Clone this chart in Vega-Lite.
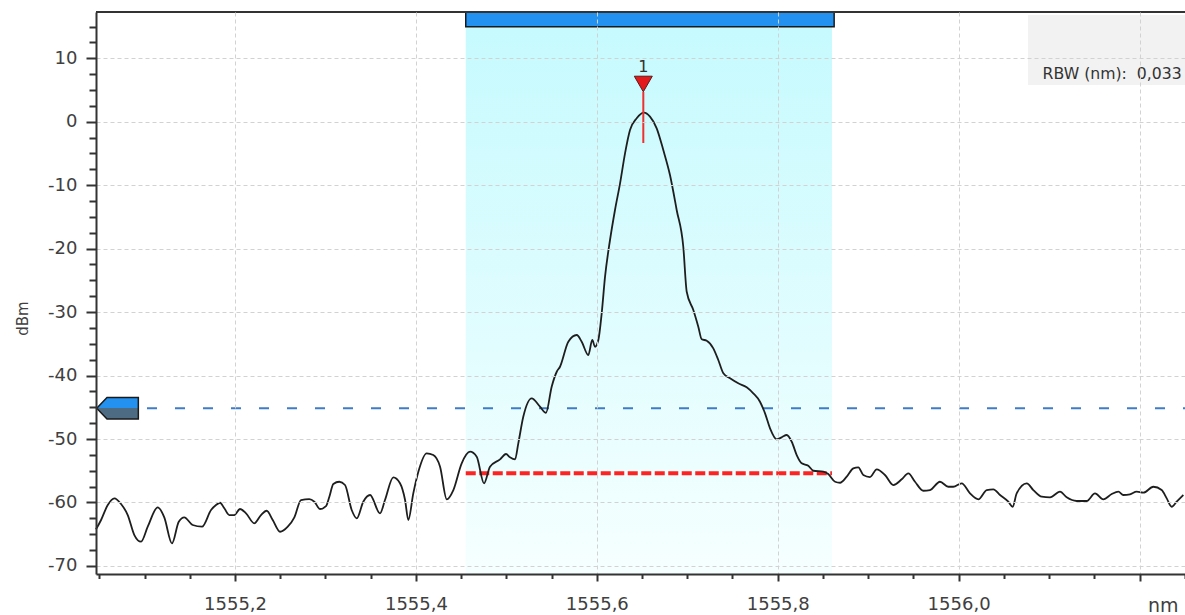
{
  "$schema": "https://vega.github.io/schema/vega-lite/v6.json",
  "width": 1089,
  "height": 562,
  "autosize": {"type": "none"},
  "padding": {"left": 96, "top": 12, "right": 0, "bottom": 41},
  "background": "white",
  "config": {
    "view": {"stroke": null},
    "font": "DejaVu Sans"
  },
  "datasets": {
    "trace": [
      {"wl":1555.0463,"dbm":-64.23},{"wl":1555.0519,"dbm":-62.76},{"wl":1555.0593,"dbm":-60.40},{"wl":1555.0666,"dbm":-59.35},
      {"wl":1555.0740,"dbm":-60.24},{"wl":1555.0814,"dbm":-61.98},{"wl":1555.0887,"dbm":-65.13},{"wl":1555.0961,"dbm":-66.18},
      {"wl":1555.1035,"dbm":-63.82},{"wl":1555.1145,"dbm":-60.76},{"wl":1555.1218,"dbm":-62.34},{"wl":1555.1303,"dbm":-66.44},
      {"wl":1555.1378,"dbm":-63.03},{"wl":1555.1439,"dbm":-62.34},{"wl":1555.1532,"dbm":-63.55},{"wl":1555.1635,"dbm":-63.82},
      {"wl":1555.1735,"dbm":-61.19},{"wl":1555.1790,"dbm":-60.40},{"wl":1555.1834,"dbm":-60.04},{"wl":1555.1882,"dbm":-60.92},
      {"wl":1555.1937,"dbm":-61.98},{"wl":1555.1992,"dbm":-61.98},{"wl":1555.2055,"dbm":-61.03},{"wl":1555.2122,"dbm":-61.71},
      {"wl":1555.2213,"dbm":-63.28},{"wl":1555.2287,"dbm":-61.98},{"wl":1555.2350,"dbm":-61.30},{"wl":1555.2417,"dbm":-62.76},
      {"wl":1555.2498,"dbm":-64.61},{"wl":1555.2583,"dbm":-63.82},{"wl":1555.2656,"dbm":-62.34},{"wl":1555.2730,"dbm":-59.61},
      {"wl":1555.2821,"dbm":-59.46},{"wl":1555.2877,"dbm":-59.88},{"wl":1555.2940,"dbm":-61.03},{"wl":1555.3006,"dbm":-60.56},
      {"wl":1555.3043,"dbm":-59.09},{"wl":1555.3087,"dbm":-57.09},{"wl":1555.3153,"dbm":-56.73},{"wl":1555.3216,"dbm":-57.25},
      {"wl":1555.3290,"dbm":-61.19},{"wl":1555.3346,"dbm":-62.50},{"wl":1555.3418,"dbm":-59.88},{"wl":1555.3493,"dbm":-58.82},
      {"wl":1555.3603,"dbm":-61.71},{"wl":1555.3658,"dbm":-59.61},{"wl":1555.3750,"dbm":-56.04},{"wl":1555.3824,"dbm":-56.98},
      {"wl":1555.3880,"dbm":-59.61},{"wl":1555.3916,"dbm":-62.76},{"wl":1555.3971,"dbm":-58.56},{"wl":1555.4027,"dbm":-55.15},
      {"wl":1555.4119,"dbm":-52.25},{"wl":1555.4192,"dbm":-52.52},{"wl":1555.4267,"dbm":-54.36},{"wl":1555.4341,"dbm":-59.50},
      {"wl":1555.4414,"dbm":-58.04},{"wl":1555.4506,"dbm":-53.83},{"wl":1555.4598,"dbm":-52.00},{"wl":1555.4672,"dbm":-52.79},
      {"wl":1555.4753,"dbm":-56.98},{"wl":1555.4819,"dbm":-54.36},{"wl":1555.4930,"dbm":-53.20},{"wl":1555.4996,"dbm":-52.36},
      {"wl":1555.5040,"dbm":-52.88},{"wl":1555.5096,"dbm":-53.20},{"wl":1555.5132,"dbm":-50.68},{"wl":1555.5187,"dbm":-46.49},
      {"wl":1555.5280,"dbm":-43.59},{"wl":1555.5372,"dbm":-44.91},{"wl":1555.5438,"dbm":-45.86},{"wl":1555.5501,"dbm":-41.76},
      {"wl":1555.5557,"dbm":-39.40},{"wl":1555.5593,"dbm":-38.61},{"wl":1555.5685,"dbm":-34.67},{"wl":1555.5778,"dbm":-33.61},
      {"wl":1555.5833,"dbm":-34.67},{"wl":1555.5906,"dbm":-36.76},{"wl":1555.5950,"dbm":-34.40},{"wl":1555.5980,"dbm":-35.46},
      {"wl":1555.6017,"dbm":-34.40},{"wl":1555.6054,"dbm":-30.19},{"wl":1555.6091,"dbm":-24.42},{"wl":1555.6146,"dbm":-18.64},
      {"wl":1555.6201,"dbm":-13.91},{"wl":1555.6257,"dbm":-9.71},{"wl":1555.6312,"dbm":-4.98},{"wl":1555.6367,"dbm":-1.31},
      {"wl":1555.6441,"dbm":0.54},{"wl":1555.6522,"dbm":1.42},{"wl":1555.6588,"dbm":0.79},{"wl":1555.6662,"dbm":-1.04},
      {"wl":1555.6735,"dbm":-4.46},{"wl":1555.6809,"dbm":-8.40},{"wl":1555.6883,"dbm":-13.91},{"wl":1555.6956,"dbm":-19.70},
      {"wl":1555.6994,"dbm":-26.79},{"wl":1555.7067,"dbm":-29.67},{"wl":1555.7122,"dbm":-32.30},{"wl":1555.7160,"dbm":-34.29},
      {"wl":1555.7215,"dbm":-34.51},{"wl":1555.7288,"dbm":-35.71},{"wl":1555.7343,"dbm":-37.55},{"wl":1555.7399,"dbm":-39.65},
      {"wl":1555.7473,"dbm":-40.43},{"wl":1555.7564,"dbm":-41.22},{"wl":1555.7657,"dbm":-41.85},{"wl":1555.7730,"dbm":-42.80},
      {"wl":1555.7804,"dbm":-44.12},{"wl":1555.7860,"dbm":-45.95},{"wl":1555.7915,"dbm":-48.31},{"wl":1555.7989,"dbm":-50.05},
      {"wl":1555.8044,"dbm":-49.73},{"wl":1555.8100,"dbm":-49.37},{"wl":1555.8155,"dbm":-50.43},{"wl":1555.8210,"dbm":-52.52},
      {"wl":1555.8265,"dbm":-53.83},{"wl":1555.8338,"dbm":-54.21},{"wl":1555.8394,"dbm":-55.00},{"wl":1555.8504,"dbm":-55.15},
      {"wl":1555.8559,"dbm":-55.52},{"wl":1555.8634,"dbm":-56.73},{"wl":1555.8689,"dbm":-56.89},{"wl":1555.8763,"dbm":-55.94},
      {"wl":1555.8836,"dbm":-54.62},{"wl":1555.8891,"dbm":-54.46},{"wl":1555.8946,"dbm":-55.67},{"wl":1555.9020,"dbm":-55.99},
      {"wl":1555.9095,"dbm":-54.77},{"wl":1555.9186,"dbm":-55.67},{"wl":1555.9278,"dbm":-57.25},{"wl":1555.9371,"dbm":-56.35},
      {"wl":1555.9444,"dbm":-55.41},{"wl":1555.9518,"dbm":-56.73},{"wl":1555.9610,"dbm":-58.15},{"wl":1555.9684,"dbm":-58.04},
      {"wl":1555.9794,"dbm":-56.73},{"wl":1555.9886,"dbm":-57.52},{"wl":1555.9941,"dbm":-57.52},{"wl":1556.0034,"dbm":-56.98},
      {"wl":1556.0126,"dbm":-58.56},{"wl":1556.0218,"dbm":-59.50},{"wl":1556.0311,"dbm":-58.04},{"wl":1556.0384,"dbm":-57.93},
      {"wl":1556.0458,"dbm":-58.82},{"wl":1556.0550,"dbm":-59.88},{"wl":1556.0598,"dbm":-60.67},{"wl":1556.0642,"dbm":-58.56},
      {"wl":1556.0753,"dbm":-56.98},{"wl":1556.0826,"dbm":-58.04},{"wl":1556.0919,"dbm":-59.09},{"wl":1556.1011,"dbm":-59.19},
      {"wl":1556.1121,"dbm":-58.30},{"wl":1556.1195,"dbm":-59.19},{"wl":1556.1306,"dbm":-59.77},{"wl":1556.1416,"dbm":-59.77},
      {"wl":1556.1508,"dbm":-58.56},{"wl":1556.1600,"dbm":-59.50},{"wl":1556.1693,"dbm":-58.67},{"wl":1556.1766,"dbm":-58.30},
      {"wl":1556.1821,"dbm":-58.82},{"wl":1556.1895,"dbm":-58.71},{"wl":1556.1969,"dbm":-58.30},{"wl":1556.2042,"dbm":-58.46},
      {"wl":1556.2153,"dbm":-57.52},{"wl":1556.2245,"dbm":-58.04},{"wl":1556.2301,"dbm":-59.35},{"wl":1556.2356,"dbm":-60.67},
      {"wl":1556.2411,"dbm":-59.88},{"wl":1556.2484,"dbm":-58.82}
    ],
    "band": [{"wl":1555.4551,"wl2":1555.8600,"dbm":-71.27,"dbm2":14.97}],
    "bar": [{"wl":1555.4551,"wl2":1555.8624,"dbm":14.97,"dbm2":17.286}],
    "threshold": [{"wl":1555.0463,"wl2":1556.2503,"dbm":-45.16}],
    "arrow": [{"wl":1555.0701,"dbm":-45.16}],
    "level": [{"wl":1555.4551,"wl2":1555.8600,"dbm":-55.41}],
    "markerLine": [{"wl":1555.6514,"dbm":4.68,"dbm2":-3.36}],
    "markerTri": [{"wl":1555.6514,"dbm":5.94}],
    "markerLabel": [{"wl":1555.6514,"dbm":7.83,"text":"1"}],
    "rbwBox": [{"wl":1556.0767,"wl2":1556.2503,"dbm":5.78,"dbm2":16.81}],
    "rbwText": [{"wl":1556.0928,"dbm":6.65,"text":"RBW (nm):\u00a0 0,033"}],
    "frameTop": [{"wl":1555.0463,"wl2":1556.2503,"dbm":17.286}]
  },
  "encoding": {
    "x": {
      "field": "wl",
      "type": "quantitative",
      "title": "nm",
      "scale": {"domain": [1555.0463, 1556.2503], "nice": false, "zero": false},
      "axis": {
        "values": [1555.05,1555.1,1555.15,1555.2,1555.25,1555.3,1555.35,1555.4,1555.45,1555.5,1555.55,1555.6,1555.65,1555.7,1555.75,1555.8,1555.85,1555.9,1555.95,1556.0,1556.05,1556.1,1556.15,1556.2,1556.25],
        "labelExpr": "abs(round(datum.value*20)) % 4 == 0 && datum.value < 1556.1 ? replace(format(datum.value, '.1f'), '.', ',') : ''",
        "tickSize": {"condition": {"test": "abs(round(datum.value*20)) % 4 == 0", "value": 7}, "value": 4.5},
        "gridOpacity": {"condition": {"test": "abs(round(datum.value*20)) % 4 == 0", "value": 1}, "value": 0},
        "grid": true,
        "gridColor": "#d2d2d2",
        "gridDash": [4, 3],
        "gridWidth": 1,
        "domainColor": "#333333",
        "domainWidth": 2,
        "tickColor": "#333333",
        "tickWidth": 2,
        "labelFont": "DejaVu Sans",
        "labelFontSize": 18,
        "labelColor": "#404040",
        "labelPadding": 14,
        "labelOverlap": false,
        "labelFlush": false,
        "labelBound": false,
        "titleFont": "DejaVu Sans",
        "titleFontSize": 19,
        "titleFontWeight": "normal",
        "titleColor": "#404040",
        "titleX": 1082,
        "titleY": 37,
        "titleAlign": "right",
        "titleBaseline": "alphabetic",
        "zindex": 1
      }
    },
    "y": {
      "field": "dbm",
      "type": "quantitative",
      "title": "dBm",
      "scale": {"domain": [-71.27, 17.286], "nice": false, "zero": false},
      "axis": {
        "values": [-70,-67.5,-65,-62.5,-60,-57.5,-55,-52.5,-50,-47.5,-45,-42.5,-40,-37.5,-35,-32.5,-30,-27.5,-25,-22.5,-20,-17.5,-15,-12.5,-10,-7.5,-5,-2.5,0,2.5,5,7.5,10,12.5,15],
        "labelExpr": "datum.value % 10 == 0 ? '' + datum.value : ''",
        "tickSize": {"condition": {"test": "datum.value % 10 == 0", "value": 10}, "value": 7},
        "gridOpacity": {"condition": {"test": "datum.value % 10 == 0", "value": 1}, "value": 0},
        "grid": true,
        "gridColor": "#d2d2d2",
        "gridDash": [4, 3],
        "gridWidth": 1,
        "domainColor": "#333333",
        "domainWidth": 2,
        "tickColor": "#333333",
        "tickWidth": 2,
        "labelFont": "DejaVu Sans",
        "labelFontSize": 18,
        "labelColor": "#404040",
        "labelPadding": 9,
        "labelOverlap": false,
        "labelFlush": false,
        "labelBound": false,
        "titleFont": "DejaVu Sans",
        "titleFontSize": 15,
        "titleFontWeight": "normal",
        "titleColor": "#404040",
        "titleAngle": 270,
        "titleX": -74,
        "titleY": 306,
        "titleAlign": "center",
        "titleBaseline": "middle",
        "zindex": 1
      }
    }
  },
  "layer": [
    {
      "data": {"name": "band"},
      "mark": {"type": "rect", "fill": {"gradient": "linear", "x1": 0, "y1": 0, "x2": 0, "y2": 1, "stops": [{"offset": 0, "color": "#c6fafe"}, {"offset": 1, "color": "#f6ffff"}]}},
      "encoding": {"x2": {"field": "wl2"}, "y2": {"field": "dbm2"}}
    },
    {
      "data": {"name": "rbwBox"},
      "mark": {"type": "rect", "fill": "#f2f2f2"},
      "encoding": {"x2": {"field": "wl2"}, "y2": {"field": "dbm2"}}
    },
    {
      "data": {"name": "threshold"},
      "mark": {"type": "rule", "stroke": "#3f7cc8", "strokeWidth": 2, "strokeDash": [10, 18], "strokeDashOffset": 5},
      "encoding": {"x2": {"field": "wl2"}}
    },
    {
      "data": {"name": "level"},
      "mark": {"type": "rule", "stroke": "#ff2222", "strokeWidth": 4, "strokeDash": [10, 3.5]},
      "encoding": {"x2": {"field": "wl2"}}
    },
    {
      "data": {"name": "trace"},
      "mark": {"type": "line", "stroke": "#1e1e1e", "strokeWidth": 1.8, "interpolate": "monotone"}
    },
    {
      "data": {"name": "bar"},
      "mark": {"type": "rect", "fill": "#2391f0", "stroke": "#1a1a1a", "strokeWidth": 1.5},
      "encoding": {"x2": {"field": "wl2"}, "y2": {"field": "dbm2"}}
    },
    {
      "data": {"name": "markerLine"},
      "mark": {"type": "rule", "stroke": "#f03030", "strokeWidth": 2},
      "encoding": {"y2": {"field": "dbm2"}}
    },
    {
      "data": {"name": "markerTri"},
      "mark": {"type": "point", "shape": "triangle-down", "size": 324, "filled": true, "fill": "#e3191b", "stroke": "#5a1a1a", "strokeWidth": 1, "opacity": 1}
    },
    {
      "data": {"name": "markerLabel"},
      "mark": {"type": "text", "font": "DejaVu Sans", "fontSize": 16, "color": "#333333", "align": "center", "baseline": "alphabetic"},
      "encoding": {"text": {"field": "text"}}
    },
    {
      "data": {"name": "rbwText"},
      "mark": {"type": "text", "font": "DejaVu Sans", "fontSize": 15.7, "color": "#333333", "align": "left", "baseline": "alphabetic"},
      "encoding": {"text": {"field": "text"}}
    },
    {
      "data": {"name": "arrow"},
      "mark": {"type": "point", "shape": "M-1,0L-0.505,-0.52L1,-0.52L1,0.52L-0.505,0.52Z", "size": 1731, "filled": true, "opacity": 1,
        "fill": {"gradient": "linear", "x1": 0, "y1": 0, "x2": 0, "y2": 1, "stops": [{"offset": 0, "color": "#2391f0"}, {"offset": 0.5, "color": "#2391f0"}, {"offset": 0.5, "color": "#4d6c84"}, {"offset": 1, "color": "#4d6c84"}]},
        "stroke": "#1a1a1a", "strokeWidth": 1.5}
    },
    {
      "data": {"name": "frameTop"},
      "mark": {"type": "rule", "stroke": "#333333", "strokeWidth": 2},
      "encoding": {"x2": {"field": "wl2"}}
    }
  ]
}
